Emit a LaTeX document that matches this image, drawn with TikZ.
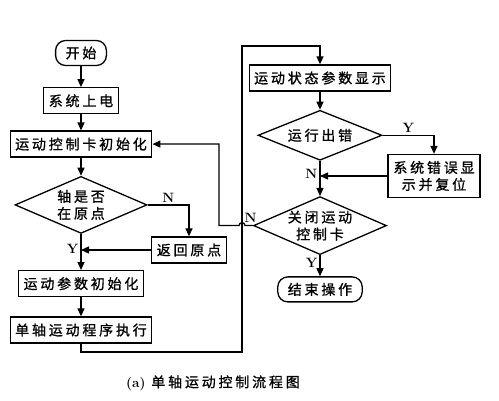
\documentclass[tikz,border=0pt]{standalone}
\usepackage{fontspec}
\newfontfamily\cjk[LetterSpace=20, FakeBold=1]{Noto Sans CJK SC}
\usetikzlibrary{arrows.meta,positioning,shapes.geometric,calc}

\begin{document}
\begin{tikzpicture}[
  x=1pt, y=1pt,
  line width=1.3pt,
  every node/.style={font=\cjk\fontsize{14}{17}\selectfont},
  proc/.style={draw, rectangle, minimum height=26pt, inner xsep=5pt, align=center},
  term/.style={draw, rounded corners=10pt, minimum height=25pt, inner xsep=10pt},
  dec/.style={draw, diamond, aspect=2.3, inner sep=0pt, align=center},
  arr/.style={-{Triangle[length=8pt,width=7pt]}},
  lbl/.style={font=\bfseries\fontsize{13.5}{14}\selectfont, inner sep=2pt},
]
  \useasboundingbox (0,0) rectangle (499,-401);

  % left column
  \node[term] (start) at (81,-53) {开始};
  \node[proc, below=21pt of start] (power) {系统上电};
  \node[proc, below=16pt of power] (init) {运动控制卡初始化};
  \node[dec, below=18pt of init, minimum width=132pt, minimum height=57pt] (home) {轴是否\\在原点};
  \node[proc] (ret) at (189,-250) {返回原点};
  \node[proc, below=36pt of home] (param) {运动参数初始化};
  \node[proc, below=19pt of param] (exec) {单轴运动程序执行};

  % right column
  \node[proc] (state) at (320,-78) {运动状态参数显示};
  \node[dec, below=18pt of state, minimum width=124pt, minimum height=50pt] (fault) {运行出错};
  \node[proc, minimum height=43pt, minimum width=92pt] (err) at (434,-176) {系统错误显\\示并复位};
  \node[dec, below=35pt of fault, minimum width=125pt, minimum height=58pt] (close) {关闭运动\\控制卡};
  \node[term, below=21pt of close] (stop) {结束操作};

  % caption
  \node (cap) at (213,-383) {{\normalfont\bfseries\fontsize{13.5}{14}\selectfont (a)} 单轴运动控制流程图};

  % loop coordinates
  \coordinate (bus) at (242,-352);
  \coordinate (top) at (242,-46);
  \coordinate (back) at (219,-224);

  % edges
  \draw[arr] (start) -- (power);
  \draw[arr] (power) -- (init);
  \draw[arr] (init) -- (home);
  \draw[arr] (home.east) -| node[lbl, above, pos=0.25]{N} (ret.north);
  \draw[arr] (ret.west) -- (ret.west -| home.south);
  \draw[arr] (home.south) -- node[lbl, left, pos=0.42]{Y} (param.north);
  \draw[arr] (param) -- (exec);
  \draw[arr] (exec.south) |- (bus) -- (top) -| (state.north);
  \draw[arr] (state) -- (fault);
  \draw[arr] (fault.east) -| node[lbl, above, pos=0.25]{Y} (err.north);
  \draw[arr] (err.west) -- (err.west -| fault.south);
  \draw[arr] (fault.south) -- node[lbl, left, pos=0.37]{N} (close.north);
  \draw[arr] (close.south) -- node[lbl, left, pos=0.35]{Y} (stop.north);
  \draw[arr] (close.west) -- node[lbl, above, pos=0.3]{N} ($(close.west -| top)+(3,0)$)
    arc[start angle=0, end angle=180, radius=3] -- (close.west -| back) |- (init.east);
\end{tikzpicture}
\end{document}
